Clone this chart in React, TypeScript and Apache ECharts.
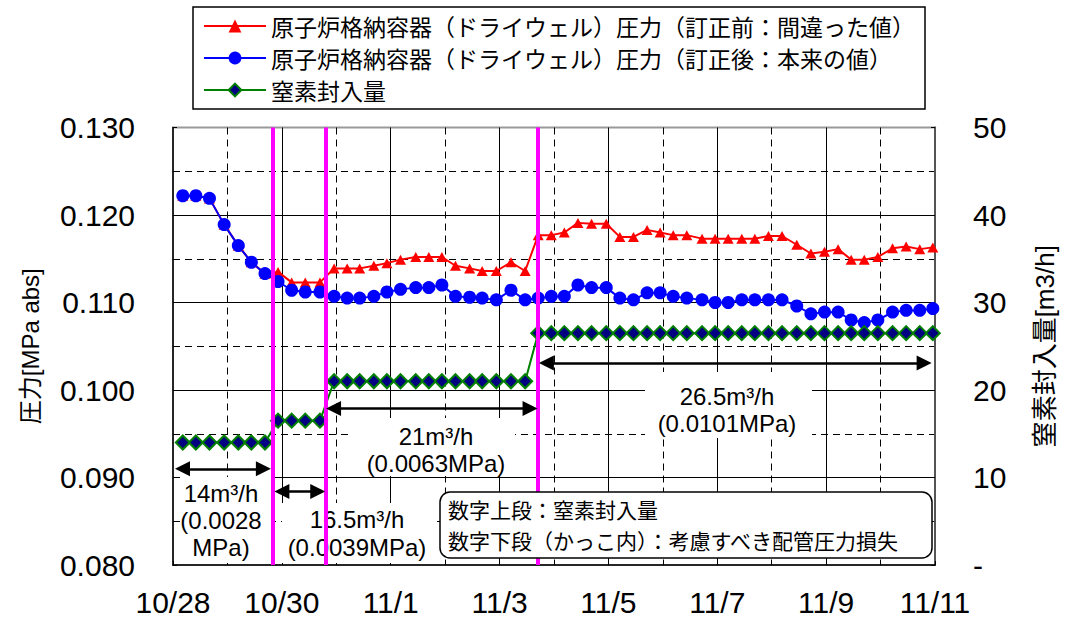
import React, { useEffect, useRef } from 'react';
import * as echarts from 'echarts';

// days elapsed since 10/28 00:00
const times = [
  0.18, 0.42, 0.67, 0.94, 1.2, 1.44, 1.69, 1.93, 2.18, 2.43,
  2.7, 2.96, 3.2, 3.43, 3.69, 3.93, 4.18, 4.46, 4.7, 4.94,
  5.19, 5.45, 5.68, 5.94, 6.21, 6.47, 6.71, 6.95, 7.19, 7.44,
  7.69, 7.96, 8.21, 8.46, 8.71, 8.95, 9.19, 9.44, 9.72, 9.96,
  10.2, 10.45, 10.69, 10.94, 11.19, 11.46, 11.72, 11.97, 12.22, 12.46,
  12.7, 12.95, 13.22, 13.47, 13.72, 13.96,
];

const pressureBefore = [
  0.1222, 0.1222, 0.1219, 0.1189, 0.1165, 0.1146, 0.1133, 0.1135, 0.1123, 0.1123,
  0.1123, 0.1139, 0.1139, 0.1139, 0.1142, 0.1145, 0.1149, 0.1152, 0.1152, 0.1152,
  0.1142, 0.1139, 0.1136, 0.1136, 0.1146, 0.1136, 0.1177, 0.1177, 0.118, 0.1191,
  0.119, 0.119, 0.1175, 0.1175, 0.1183, 0.118, 0.1177, 0.1177, 0.1173, 0.1173,
  0.1173, 0.1173, 0.1173, 0.1176, 0.1176, 0.1166, 0.1156, 0.1158, 0.1161, 0.1149,
  0.1149, 0.1152, 0.1162, 0.1164, 0.1161, 0.1163,
];

const pressureAfter = [
  0.1222, 0.1222, 0.1219, 0.1189, 0.1165, 0.1146, 0.1133, 0.1124, 0.1114, 0.1112,
  0.1112, 0.1107, 0.1105, 0.1105, 0.1107, 0.1112, 0.1115, 0.1117, 0.1117, 0.112,
  0.1107, 0.1106, 0.1105, 0.1103, 0.1114, 0.1103, 0.1105, 0.1107, 0.1107, 0.112,
  0.1117, 0.1117, 0.1105, 0.1103, 0.1111, 0.1111, 0.1107, 0.1105, 0.1103, 0.11,
  0.11, 0.1103, 0.1103, 0.1103, 0.1103, 0.1096, 0.1087, 0.1089, 0.1089, 0.108,
  0.1077, 0.108, 0.1089, 0.1091, 0.1091, 0.1093,
];

const nitrogenFlow = [
  14, 14, 14, 14, 14, 14, 14, 16.5, 16.5, 16.5,
  16.5, 21, 21, 21, 21, 21, 21, 21, 21, 21,
  21, 21, 21, 21, 21, 21, 26.5, 26.5, 26.5, 26.5,
  26.5, 26.5, 26.5, 26.5, 26.5, 26.5, 26.5, 26.5, 26.5, 26.5,
  26.5, 26.5, 26.5, 26.5, 26.5, 26.5, 26.5, 26.5, 26.5, 26.5,
  26.5, 26.5, 26.5, 26.5, 26.5, 26.5,
];

const xTickLabels = ['10/28', '10/30', '11/1', '11/3', '11/5', '11/7', '11/9', '11/11'];
const seriesNames = [
  '原子炉格納容器（ドライウェル）圧力（訂正前：間違った値）',
  '原子炉格納容器（ドライウェル）圧力（訂正後：本来の値）',
  '窒素封入量',
];
// days at which the injection rate changed
const changeDays = [1.84, 2.81, 6.71];
// [start day, end day, pressure level] of each double arrow
const arrowSpans = [
  [0.175, 1.66, 0.091],
  [2.0, 2.66, 0.0884],
  [2.95, 6.56, 0.0979],
  [6.86, 13.8, 0.1031],
];
const flowNotes = [
  '14m³/h\n(0.0028\nMPa)',
  '16.5m³/h\n(0.0039MPa)',
  '21m³/h\n(0.0063MPa)',
  '26.5m³/h\n(0.0101MPa)',
];
const noteLines = ['数字上段：窒素封入量', '数字下段（かっこ内）：考慮すべき配管圧力損失'];

const LAT = "'Liberation Sans', Arial, sans-serif";
const JP = "'Noto Sans CJK JP', sans-serif";
const MIX = "'Liberation Sans', 'Noto Sans CJK JP', sans-serif";

export default function App() {
  const ref = useRef<HTMLDivElement>(null);
  useEffect(() => {
    document.body.style.margin = '0';
    const chart = echarts.init(ref.current!, null, { renderer: 'svg' });
    const pair = (arr: number[]) => arr.map((v, i) => [times[i], v]);

    const noteBoxes = [
      { x: 180, y: 477, w: 91, h: 86, cx: 221, cy: 520, lh: 27 },
      { x: 282, y: 503, w: 150, h: 60, cx: 357, cy: 533, lh: 28 },
      { x: 352, y: 418, w: 163, h: 58, cx: 436, cy: 450, lh: 27 },
      { x: 645, y: 372, w: 167, h: 66, cx: 727, cy: 410, lh: 27 },
    ];
    const graphics: any[] = [];
    noteBoxes.forEach((b, i) => {
      graphics.push({
        type: 'rect', z: 1, silent: true,
        shape: { x: b.x, y: b.y, width: b.w, height: b.h },
        style: { fill: '#fff' },
      });
      graphics.push({
        type: 'text', z: 3, silent: true, x: b.cx, y: b.cy,
        style: {
          text: flowNotes[i], fill: '#000', font: `24px ${LAT}`,
          textAlign: 'center', textVerticalAlign: 'middle', lineHeight: b.lh,
        },
      });
    });
    graphics.push({
      type: 'rect', z: 10, silent: true,
      shape: { x: 440, y: 492, width: 492, height: 66, r: 10 },
      style: { fill: '#fff', stroke: '#000', lineWidth: 1.5 },
    });
    noteLines.forEach((t, i) => {
      graphics.push({
        type: 'text', z: 11, silent: true, x: 448, y: 509 + i * 31,
        style: {
          text: t, fill: '#000', font: `21px ${JP}`,
          textAlign: 'left', textVerticalAlign: 'middle',
        },
      });
    });

    const option: any = {
      animation: false,
      backgroundColor: '#fff',
      grid: {
        left: 173, right: 131, top: 127.5, bottom: 61,
        show: true, borderColor: '#999', borderWidth: 2,
      },
      legend: {
        orient: 'vertical', left: 193, top: 7,
        data: seriesNames,
        backgroundColor: '#fff', borderColor: '#000', borderWidth: 1.5,
        padding: [6, 10, 6, 10], itemGap: 6, itemWidth: 62, itemHeight: 16,
        textStyle: { fontSize: 23, fontFamily: JP, color: '#000', lineHeight: 26 },
        selectedMode: false,
      },
      xAxis: {
        type: 'value', min: 0, max: 14, interval: 2,
        axisLine: { show: true, lineStyle: { color: '#000', width: 1.5 } },
        axisTick: { show: true, inside: true, length: 4, lineStyle: { color: '#000' } },
        axisLabel: {
          margin: 22, fontSize: 30, fontFamily: LAT, color: '#000',
          formatter: (v: number) => xTickLabels[Math.round(v / 2)] ?? '',
        },
        splitLine: { show: true, showMinLine: false, showMaxLine: false, lineStyle: { color: '#000', width: 1 } },
        minorTick: { show: false, splitNumber: 2 },
        minorSplitLine: { show: true, lineStyle: { color: '#000', width: 1, type: [7, 5] } },
      },
      yAxis: [
        {
          type: 'value', min: 0.08, max: 0.13, interval: 0.01,
          name: '圧力[MPa abs]', nameLocation: 'middle', nameRotate: 90, nameGap: 131,
          nameTextStyle: { fontSize: 24, fontFamily: MIX, color: '#000' },
          axisLine: { show: true, lineStyle: { color: '#000', width: 1.5 } },
          axisTick: { show: true, inside: true, length: 4, lineStyle: { color: '#000' } },
          axisLabel: {
            margin: 38, fontSize: 30, fontFamily: LAT, color: '#000',
            formatter: (v: number) => v.toFixed(3),
          },
          splitLine: { show: true, showMinLine: false, showMaxLine: false, lineStyle: { color: '#000', width: 1 } },
          minorTick: { show: false, splitNumber: 2 },
          minorSplitLine: { show: true, lineStyle: { color: '#000', width: 1, type: [7, 5] } },
        },
        {
          type: 'value', min: 0, max: 50, interval: 10, position: 'right',
          name: '窒素封入量[m3/h]', nameLocation: 'middle', nameRotate: 90, nameGap: 97,
          nameTextStyle: { fontSize: 26, fontFamily: MIX, color: '#000' },
          axisLine: { show: true, lineStyle: { color: '#555', width: 2 } },
          axisTick: { show: true, inside: true, length: 4, lineStyle: { color: '#000' } },
          axisLabel: {
            margin: 38, fontSize: 30, fontFamily: LAT, color: '#000',
            formatter: (v: number) => (v === 0 ? '-' : String(v)),
          },
          splitLine: { show: false },
        },
      ],
      series: [
        {
          name: seriesNames[0], type: 'line', yAxisIndex: 0,
          data: pair(pressureBefore),
          symbol: 'triangle', symbolSize: [11, 10],
          itemStyle: { color: '#ff0000' },
          lineStyle: { color: '#ff0000', width: 2 },
          markLine: {
            silent: true, symbol: ['none', 'none'],
            label: { show: false },
            lineStyle: { color: '#ff00ff', width: 4, type: 'solid' },
            data: changeDays.map((d) => ({ xAxis: d })),
          },
        },
        {
          name: seriesNames[1], type: 'line', yAxisIndex: 0,
          data: pair(pressureAfter),
          symbol: 'circle', symbolSize: 13,
          itemStyle: { color: '#0000ff' },
          lineStyle: { color: '#0000ff', width: 2 },
          markLine: {
            silent: true, symbol: ['triangle', 'triangle'], symbolSize: [15, 15],
            label: { show: false },
            lineStyle: { color: '#000', width: 2.5, type: 'solid' },
            itemStyle: { color: '#000' },
            data: arrowSpans.map(([a, b, y]) => [{ coord: [a, y] }, { coord: [b, y] }]),
          },
        },
        {
          name: seriesNames[2], type: 'line', yAxisIndex: 1,
          data: pair(nitrogenFlow),
          symbol: 'diamond', symbolSize: 14,
          itemStyle: { color: '#000080', borderColor: '#008000', borderWidth: 2 },
          lineStyle: { color: '#008000', width: 2 },
        },
      ],
      graphic: graphics,
    };
    chart.setOption(option);
    return () => chart.dispose();
  }, []);
  return <div ref={ref} style={{ width: 1066, height: 626 }} />;
}
